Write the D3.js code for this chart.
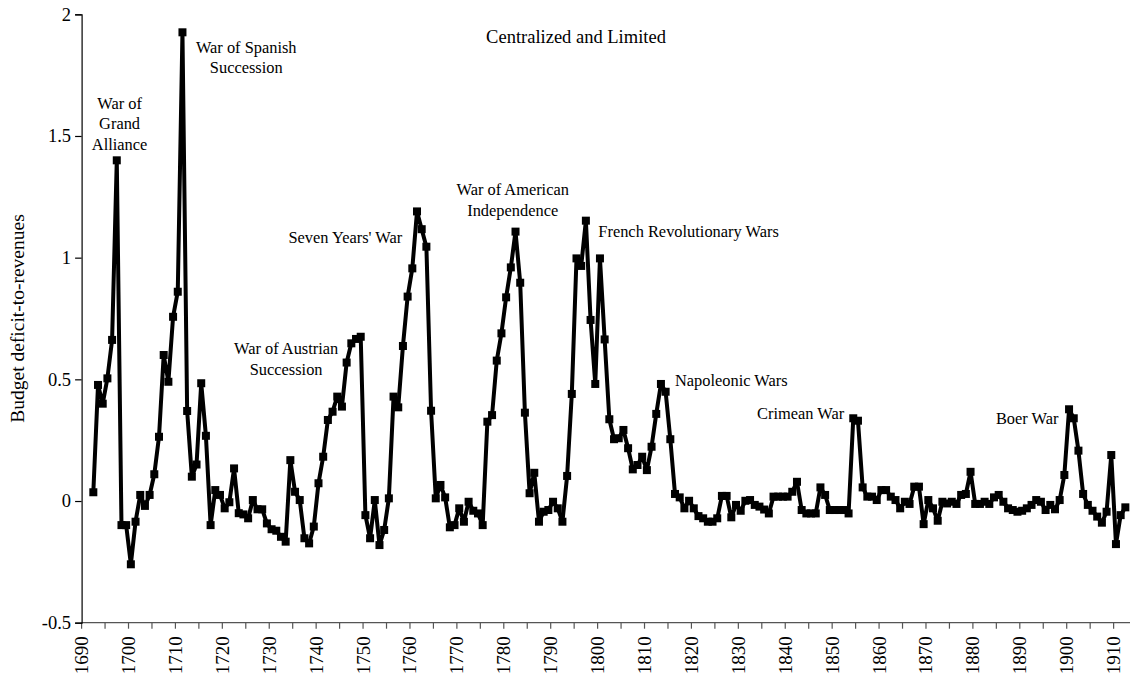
<!DOCTYPE html>
<html>
<head>
<meta charset="utf-8">
<script src="https://cdn.jsdelivr.net/npm/d3@7"></script>
<style>
  html, body { margin: 0; padding: 0; background: #fff; }
  svg { display: block; }
  text { font-family: "Liberation Serif", "Times New Roman", serif; fill: #000; }
</style>
</head>
<body>
<svg id="chart" width="1130" height="679"></svg>
<script>
// ---------------- data ----------------
const chartTitle = "Centralized and Limited";
const yAxisTitle = "Budget deficit-to-revenues";

const axisFirstYear = 1690;
const axisLastYear = 1913;

const years = [
  1692,1693,1694,1695,1696,1697,1698,1699,1700,1701,1702,1703,1704,1705,1706,1707,1708,1709,1710,1711,
  1712,1713,1714,1715,1716,1717,1718,1719,1720,1721,1722,1723,1724,1725,1726,1727,1728,1729,1730,1731,
  1732,1733,1734,1735,1736,1737,1738,1739,1740,1741,1742,1743,1744,1745,1746,1747,1748,1749,1750,1751,
  1752,1753,1754,1755,1756,1757,1758,1759,1760,1761,1762,1763,1764,1765,1766,1767,1768,1769,1770,1771,
  1772,1773,1774,1775,1776,1777,1778,1779,1780,1781,1782,1783,1784,1785,1786,1787,1788,1789,1790,1791,
  1792,1793,1794,1795,1796,1797,1798,1799,1800,1801,1802,1803,1804,1805,1806,1807,1808,1809,1810,1811,
  1812,1813,1814,1815,1816,1817,1818,1819,1820,1821,1822,1823,1824,1825,1826,1827,1828,1829,1830,1831,
  1832,1833,1834,1835,1836,1837,1838,1839,1840,1841,1842,1843,1844,1845,1846,1847,1848,1849,1850,1851,
  1852,1853,1854,1855,1856,1857,1858,1859,1860,1861,1862,1863,1864,1865,1866,1867,1868,1869,1870,1871,
  1872,1873,1874,1875,1876,1877,1878,1879,1880,1881,1882,1883,1884,1885,1886,1887,1888,1889,1890,1891,
  1892,1893,1894,1895,1896,1897,1898,1899,1900,1901,1902,1903,1904,1905,1906,1907,1908,1909,1910,1911,
  1912
];

const deficitRatio = [
  0.036, 0.477, 0.400, 0.504, 0.662, 1.400, -0.099, -0.099, -0.260, -0.085, 0.025, -0.020, 0.025, 0.110, 0.264, 0.600, 0.490, 0.757, 0.860, 1.926,
  0.370, 0.100, 0.150, 0.484, 0.268, -0.099, 0.045, 0.025, -0.030, -0.005, 0.134, -0.050, -0.055, -0.071, 0.004, -0.034, -0.034, -0.092, -0.116, -0.122,
  -0.147, -0.167, 0.168, 0.038, 0.004, -0.153, -0.174, -0.105, 0.073, 0.182, 0.333, 0.367, 0.429, 0.388, 0.569, 0.648, 0.666, 0.675, -0.058, -0.153,
  0.004, -0.181, -0.119, 0.011, 0.429, 0.385, 0.637, 0.840, 0.956, 1.190, 1.117, 1.045, 0.371, 0.011, 0.066, 0.015, -0.108, -0.099, -0.030, -0.085,
  -0.003, -0.040, -0.051, -0.099, 0.326, 0.353, 0.577, 0.689, 0.837, 0.960, 1.107, 0.897, 0.363, 0.032, 0.116, -0.085, -0.044, -0.037, -0.003, -0.030,
  -0.085, 0.103, 0.440, 0.997, 0.966, 1.152, 0.744, 0.481, 0.997, 0.664, 0.336, 0.254, 0.258, 0.292, 0.217, 0.130, 0.148, 0.182, 0.127, 0.223,
  0.358, 0.481, 0.449, 0.254, 0.029, 0.015, -0.030, 0.001, -0.030, -0.062, -0.071, -0.085, -0.085, -0.071, 0.021, 0.021, -0.067, -0.016, -0.040, 0.001,
  0.004, -0.016, -0.023, -0.035, -0.051, 0.018, 0.018, 0.018, 0.018, 0.038, 0.079, -0.037, -0.051, -0.051, -0.051, 0.056, 0.025, -0.037, -0.037, -0.037,
  -0.037, -0.051, 0.340, 0.330, 0.056, 0.018, 0.018, 0.004, 0.045, 0.045, 0.018, 0.004, -0.030, -0.003, -0.012, 0.059, 0.059, -0.095, 0.004, -0.030,
  -0.081, -0.003, -0.010, -0.003, -0.012, 0.025, 0.029, 0.120, -0.012, -0.012, -0.003, -0.012, 0.015, 0.025, -0.003, -0.030, -0.037, -0.044, -0.040, -0.030,
  -0.016, 0.004, -0.003, -0.037, -0.016, -0.034, 0.004, 0.107, 0.377, 0.340, 0.207, 0.029, -0.016, -0.040, -0.064, -0.089, -0.044, 0.189, -0.177, -0.058,
  -0.026
];

const yTickValues = [-0.5, 0, 0.5, 1, 1.5, 2];
const yTickLabels = ["-0.5", "0", "0.5", "1", "1.5", "2"];

// war annotations: text lines and the (year, value) position of the first line's baseline
const warLabels = [
  { lines: ["War of", "Grand", "Alliance"], year: 1698.1, value: 1.612, anchor: "middle" },
  { lines: ["War of Spanish", "Succession"], year: 1725.1, value: 1.843, anchor: "middle" },
  { lines: ["War of Austrian", "Succession"], year: 1733.6, value: 0.603, anchor: "middle" },
  { lines: ["Seven Years' War"], year: 1734.1, value: 1.062, anchor: "start" },
  { lines: ["War of American", "Independence"], year: 1781.9, value: 1.256, anchor: "middle" },
  { lines: ["French Revolutionary Wars"], year: 1800.15, value: 1.085, anchor: "start" },
  { lines: ["Napoleonic Wars"], year: 1816.5, value: 0.471, anchor: "start" },
  { lines: ["Crimean War"], year: 1834.0, value: 0.336, anchor: "start" },
  { lines: ["Boer War"], year: 1884.9, value: 0.318, anchor: "start" }
];

// ---------------- layout ----------------
const svg = d3.select("#chart");
const plotLeft = 81.6, plotTop = 14.3, plotBottom = 622.7;
const step = 4.691;
const axisYears = d3.range(axisFirstYear, axisLastYear + 1);

const x = d3.scaleBand()
  .domain(axisYears)
  .range([plotLeft, plotLeft + axisYears.length * step])
  .paddingInner(0).paddingOuter(0);
const xc = yr => x(yr) + x.bandwidth() / 2;
const xLin = d3.scaleLinear()
  .domain([axisFirstYear, axisLastYear + 1])
  .range([plotLeft, plotLeft + axisYears.length * step]);

const y = d3.scaleLinear().domain([-0.5, 2]).range([plotBottom, plotTop]);

// ---------------- axes ----------------
const xAxisG = svg.append("g").attr("transform", `translate(0,${plotBottom})`);
xAxisG.append("line")
  .attr("x1", plotLeft).attr("x2", 1130)
  .attr("y1", 0).attr("y2", 0)
  .attr("stroke", "#555").attr("stroke-width", 1.2);
const xTickYears = axisYears.filter(d => d % 5 === 0);
xAxisG.selectAll("line.tick").data(xTickYears).enter().append("line")
  .attr("class", "tick")
  .attr("x1", d => x(d)).attr("x2", d => x(d))
  .attr("y1", 0).attr("y2", 6)
  .attr("stroke", "#555").attr("stroke-width", 1.2);
xAxisG.selectAll("text").data(xTickYears.filter(d => d % 10 === 0)).enter().append("text")
  .attr("transform", d => `translate(${x(d)},13.5) rotate(-90)`)
  .attr("text-anchor", "end")
  .attr("dominant-baseline", "central")
  .style("font-size", "19px")
  .text(d => d);

const yAxis = d3.axisLeft(y).tickValues(yTickValues)
  .tickFormat((d, i) => yTickLabels[i]).tickSize(6.5).tickPadding(4);
const yAxisG = svg.append("g").attr("transform", `translate(${plotLeft},0)`).call(yAxis);
yAxisG.select(".domain").attr("stroke", "#000").attr("stroke-width", 1.2);
yAxisG.selectAll(".tick line").attr("stroke", "#000").attr("stroke-width", 1.2);
yAxisG.selectAll(".tick text")
  .style("font-family", '"Liberation Serif", "Times New Roman", serif')
  .style("font-size", "18.5px").attr("fill", "#000");

svg.append("text")
  .attr("transform", `translate(17,${(plotTop + plotBottom) / 2}) rotate(-90)`)
  .attr("text-anchor", "middle")
  .attr("dominant-baseline", "central")
  .style("font-size", "19.5px")
  .text(yAxisTitle);

svg.append("text")
  .attr("x", 576).attr("y", 43)
  .attr("text-anchor", "middle")
  .style("font-size", "18.5px")
  .text(chartTitle);

// ---------------- series ----------------
const pts = years.map((yr, i) => ({ yr, v: deficitRatio[i] }));
const line = d3.line().x(d => xc(d.yr)).y(d => y(d.v));

svg.append("path")
  .datum(pts)
  .attr("d", line)
  .attr("fill", "none")
  .attr("stroke", "#000")
  .attr("stroke-width", 4)
  .attr("stroke-linejoin", "round");

const ms = 8;
svg.selectAll("rect.marker").data(pts).enter().append("rect")
  .attr("class", "marker")
  .attr("x", d => xc(d.yr) - ms / 2)
  .attr("y", d => y(d.v) - ms / 2)
  .attr("width", ms).attr("height", ms)
  .attr("fill", "#000");

// ---------------- annotations ----------------
const lineGap = 20.5;
warLabels.forEach(w => {
  const t = svg.append("text")
    .attr("text-anchor", w.anchor)
    .style("font-size", "16.4px");
  w.lines.forEach((ln, i) => {
    t.append("tspan")
      .attr("x", xLin(w.year))
      .attr("y", y(w.value) + i * lineGap)
      .text(ln);
  });
});
</script>
</body>
</html>
